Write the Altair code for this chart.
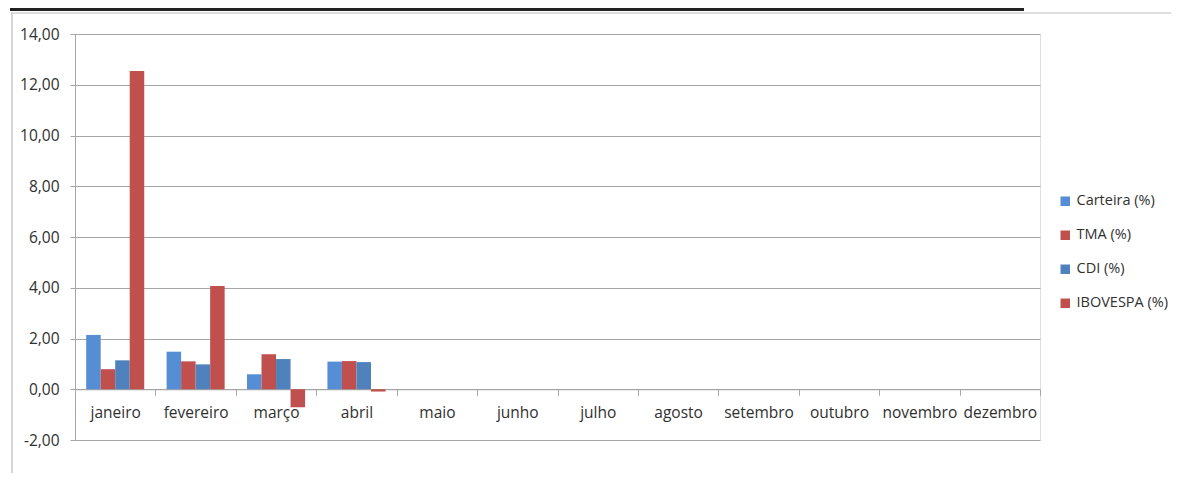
import altair as alt
import pandas as pd

meses = ["janeiro", "fevereiro", "março", "abril", "maio", "junho", "julho",
         "agosto", "setembro", "outubro", "novembro", "dezembro"]
series = ["Carteira (%)", "TMA (%)", "CDI (%)", "IBOVESPA (%)"]
carteira = [2.14, 1.48, 0.59, 1.09]
tma = [0.79, 1.10, 1.38, 1.11]
cdi = [1.14, 0.98, 1.19, 1.07]
ibovespa = [12.54, 4.07, -0.71, -0.09]
cores = ["#558ED5", "#C0504D", "#4F81BD", "#C0504D"]
y_ticks = [-2, 0, 2, 4, 6, 8, 10, 12, 14]

rows = []
for nome, vals in zip(series, [carteira, tma, cdi, ibovespa]):
    for m, v in zip(meses, vals):
        rows.append({"mes": m, "serie": nome, "valor": v})
df = pd.DataFrame(rows)

W, H = 965, 406
FONT = "Open Sans"
FS = 15.5
LFS = 14.5
TXT = "#303030"
GRID = "#A6A6A6"

bars = alt.Chart(df).mark_bar().encode(
    x=alt.X("mes:N", sort=meses,
            scale=alt.Scale(domain=meses, paddingInner=0, paddingOuter=0),
            axis=alt.Axis(title=None, labelAngle=0, offset=-2 * H / 16,
                          tickBand="extent", ticks=True, tickSize=6,
                          tickColor=GRID, domainColor=GRID, grid=False,
                          labelPadding=10, labelFontSize=FS, labelColor=TXT,
                          labelFont=FONT)),
    xOffset=alt.XOffset("serie:N", sort=series,
                        scale=alt.Scale(domain=series, paddingInner=0,
                                        paddingOuter=0.77)),
    y=alt.Y("valor:Q",
            scale=alt.Scale(domain=[-2, 14], nice=False, zero=False),
            axis=alt.Axis(title=None, values=y_ticks,
                          labelExpr="replace(replace(format(datum.value, '.2f'), '.', ','), '\u2212', '-')",
                          grid=True, gridColor=GRID, domainColor=GRID,
                          tickColor=GRID, tickSize=5, labelPadding=11,
                          labelFontSize=FS, labelColor=TXT, labelFont=FONT)),
    color=alt.Color("serie:N", sort=series,
                    scale=alt.Scale(domain=series, range=cores),
                    legend=alt.Legend(title=None, orient="none", legendX=983,
                                      legendY=160, symbolType="square",
                                      symbolSize=90, symbolStrokeWidth=0,
                                      rowPadding=19, labelFontSize=LFS,
                                      labelColor=TXT, labelFont=FONT,
                                      labelOffset=4, labelLimit=200)),
)

deco = pd.DataFrame({"k": [0]})
top_black = alt.Chart(deco).mark_rule(color="#222222", strokeWidth=3).encode(
    x=alt.value(-65), x2=alt.value(949), y=alt.value(-24.5))
top_gray = alt.Chart(deco).mark_rule(color="#BBBBBB", strokeWidth=1.2).encode(
    x=alt.value(-64), x2=alt.value(1110), y=alt.value(-21))
left_gray = alt.Chart(deco).mark_rule(color="#BBBBBB", strokeWidth=1.2).encode(
    x=alt.value(-63), y=alt.value(-21), y2=alt.value(450))

chart = alt.layer(bars, top_black, top_gray, left_gray).properties(
    width=W, height=H,
    autosize=alt.AutoSizeParams(type="none"),
    padding={"left": 67, "top": 26, "right": 131, "bottom": 33},
).configure_view(stroke=None).configure(background="white")

chart.save("out.html", embed_options={"renderer": "svg", "actions": False})
